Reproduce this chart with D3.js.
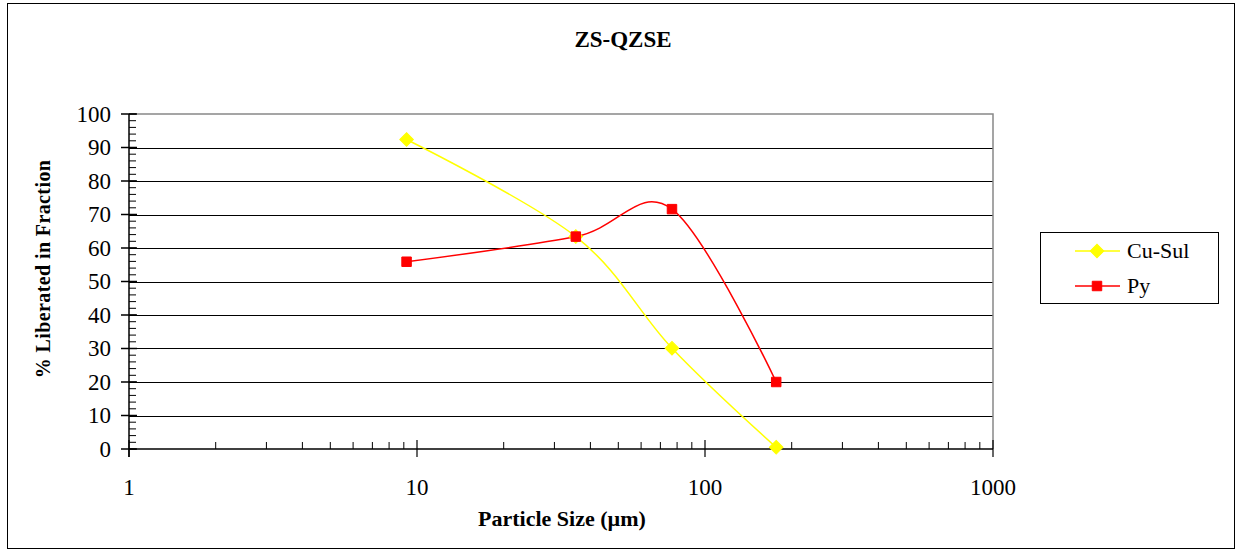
<!DOCTYPE html>
<html><head><meta charset="utf-8">
<script src="https://cdn.jsdelivr.net/npm/d3@7"></script>
</head><body style="margin:0;background:#fff">
<svg id="c" width="1236" height="550"></svg>
<script>
// ---- data ----
const sizes = [9.2, 35.6, 76.8, 176.7];
const cuSul = [92.4, 63.4, 30.1, 0.5];
const py = [55.9, 63.4, 71.6, 20.0];
const seriesNames = ["Cu-Sul", "Py"];
const xTickLabels = [1, 10, 100, 1000];
const yTickLabels = [0, 10, 20, 30, 40, 50, 60, 70, 80, 90, 100];
const titleText = "ZS-QZSE";
const xTitle = "Particle Size (µm)";
const yTitle = "% Liberated in Fraction";

// ---- layout ----
const FONT = "Liberation Serif";
const L = 129, R = 993, T = 114, B = 449;
const svg = d3.select("#c");
const x = d3.scaleLog().domain([1, 1000]).range([L, R]);
const y = d3.scaleLinear().domain([0, 100]).range([B, T]);

// outer border
svg.append("rect").attr("x", 7.5).attr("y", 3.5).attr("width", 1227).attr("height", 545)
  .attr("fill", "none").attr("stroke", "#000").attr("stroke-width", 1);

// gridlines
svg.append("g").selectAll("line").data(yTickLabels.filter(d => d > 0 && d < 100)).join("line")
  .attr("x1", L).attr("x2", R).attr("y1", d => Math.round(y(d)) + 0.5).attr("y2", d => Math.round(y(d)) + 0.5)
  .attr("stroke", "#000").attr("stroke-width", 1);

// plot border (top & right)
svg.append("path").attr("d", `M${L},${T}H${R}V${B}`).attr("fill", "none")
  .attr("stroke", "#888").attr("stroke-width", 1.5);

// y axis
const yMinor = d3.range(0, 101, 2);
const gy = svg.append("g");
gy.append("line").attr("x1", L).attr("x2", L).attr("y1", T).attr("y2", B + 8).attr("stroke", "#000").attr("stroke-width", 1.5);
gy.selectAll(".ymin").data(yMinor).join("line").attr("class", "ymin")
  .attr("x1", L).attr("x2", L + 7).attr("y1", d => y(d)).attr("y2", d => y(d))
  .attr("stroke", "#000").attr("stroke-width", 1);
gy.selectAll(".ymaj").data(yTickLabels).join("line").attr("class", "ymaj")
  .attr("x1", L - 8).attr("x2", L + 8).attr("y1", d => y(d)).attr("y2", d => y(d))
  .attr("stroke", "#000").attr("stroke-width", 1.5);
gy.selectAll("text").data(yTickLabels).join("text")
  .attr("font-family", FONT)
  .attr("x", 111).attr("y", d => y(d)).attr("dy", "0.34em").attr("text-anchor", "end")
  .attr("font-size", 23).text(d => d);

// x axis
const xMinor = [];
[1, 10, 100].forEach(p => { for (let k = 2; k <= 9; k++) xMinor.push(p * k); });
const gx = svg.append("g");
gx.append("line").attr("x1", L).attr("x2", R).attr("y1", B).attr("y2", B).attr("stroke", "#000").attr("stroke-width", 1.5);
gx.selectAll(".xmin").data(xMinor).join("line").attr("class", "xmin")
  .attr("x1", d => x(d)).attr("x2", d => x(d)).attr("y1", B).attr("y2", B - 7)
  .attr("stroke", "#000").attr("stroke-width", 1);
gx.selectAll(".xmaj").data(xTickLabels).join("line").attr("class", "xmaj")
  .attr("x1", d => x(d)).attr("x2", d => x(d)).attr("y1", B - 9).attr("y2", B + 8)
  .attr("stroke", "#000").attr("stroke-width", 1.2);
gx.selectAll("text").data(xTickLabels).join("text")
  .attr("font-family", FONT)
  .attr("x", d => x(d)).attr("y", 495).attr("text-anchor", "middle")
  .attr("font-size", 23).text(d => d);

// titles
svg.append("text").attr("font-family", FONT).attr("x", 623).attr("y", 47).attr("text-anchor", "middle")
  .attr("font-size", 23).attr("font-weight", "bold").text(titleText);
svg.append("text").attr("font-family", FONT).attr("x", 562).attr("y", 526).attr("text-anchor", "middle")
  .attr("font-size", 22).attr("font-weight", "bold").text(xTitle);
svg.append("text").attr("font-family", FONT).attr("transform", `translate(50,269) rotate(-90)`).attr("text-anchor", "middle")
  .attr("font-size", 20).attr("font-weight", "bold").attr("letter-spacing", 0.4).text(yTitle);

// series
const line = d3.line().x(d => x(d[0])).y(d => y(d[1])).curve(d3.curveCardinal.tension(0));
const series = [
  { name: seriesNames[0], vals: cuSul, color: "#FFFF00", marker: "diamond" },
  { name: seriesNames[1], vals: py, color: "#FF0000", marker: "square" }
];
const markerPath = m => m === "diamond"
  ? d3.symbol().type(d3.symbolSquare).size(92)()
  : d3.symbol().type(d3.symbolSquare).size(90)();
const markerRot = m => m === "diamond" ? " rotate(45)" : "";

series.forEach(s => {
  const pts = sizes.map((v, i) => [v, s.vals[i]]);
  svg.append("path").attr("d", line(pts)).attr("fill", "none").attr("stroke", s.color).attr("stroke-width", 1.5);
});
series.forEach(s => {
  const pts = sizes.map((v, i) => [v, s.vals[i]]);
  svg.append("g").selectAll("path").data(pts).join("path")
    .attr("transform", d => `translate(${x(d[0])},${y(d[1])})` + markerRot(s.marker))
    .attr("d", markerPath(s.marker))
    .attr("fill", s.color).attr("stroke", s.color);
});

// legend
const lg = svg.append("g");
lg.append("rect").attr("x", 1040.5).attr("y", 232.5).attr("width", 178).attr("height", 71)
  .attr("fill", "#fff").attr("stroke", "#000").attr("stroke-width", 1);
series.forEach((s, i) => {
  const ly = 251 + i * 35;
  lg.append("line").attr("x1", 1075).attr("x2", 1120).attr("y1", ly).attr("y2", ly)
    .attr("stroke", s.color).attr("stroke-width", 1.5);
  lg.append("path").attr("transform", `translate(1097,${ly})` + markerRot(s.marker))
    .attr("d", markerPath(s.marker))
    .attr("fill", s.color).attr("stroke", s.color);
  lg.append("text").attr("font-family", FONT).attr("x", 1127).attr("y", ly).attr("dy", "0.34em")
    .attr("font-size", 22).text(s.name);
});
</script>
</body></html>
